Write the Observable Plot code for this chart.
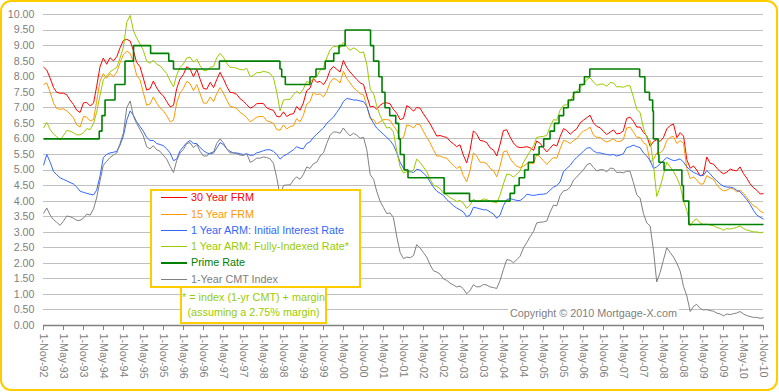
<!DOCTYPE html>
<html><head><meta charset="utf-8">
<script src="https://cdn.jsdelivr.net/npm/d3@7"></script>
<script src="https://cdn.jsdelivr.net/npm/@observablehq/plot@0.6"></script>
<style>
body{margin:0;background:#fff;}
#wrap{position:relative;width:779px;height:392px;font-family:"Liberation Sans",Arial,sans-serif;}
#chart{position:absolute;left:0;top:0;}
#frame{position:absolute;left:0;top:0;width:778px;height:391px;box-sizing:border-box;border:2px solid #FFCC00;border-radius:11px;pointer-events:none;}
#legend{position:absolute;left:150px;top:189px;width:211px;height:99px;box-sizing:border-box;border:2px solid #FFCC00;background:#fff;}
.row{position:absolute;left:0;height:16px;width:205px;}
.row .ln{position:absolute;left:9px;width:26px;top:8px;}
.row .tx{position:absolute;left:39px;top:0;font-size:10.8px;line-height:16px;white-space:nowrap;}
#note{position:absolute;left:180px;top:286px;width:147px;height:38px;box-sizing:border-box;border:2px solid #FFCC00;background:#fff;color:#99CC00;font-size:10.8px;line-height:15.4px;text-align:center;padding-top:2px;white-space:nowrap;}
#copy{position:absolute;left:508px;top:306px;background:#fff;color:#808080;font-size:10.8px;line-height:14px;padding:0 2px;white-space:nowrap;}
</style>
</head><body>
<div id="wrap"></div>
<script>
// ---- data: monthly values, first month = Nov 1992, last = Nov 2010 ----
const seriesNames = ["30 Year FRM","15 Year FRM","1 Year ARM: Initial Interest Rate","1 Year ARM: Fully-Indexed Rate*","Prime Rate","1-Year CMT Index"];
const seriesColors = ["#FF0000","#FF9900","#3366FF","#99CC00","#008000","#808080"];

const frm30 = [
8.31,8.21,
7.95,7.65,7.50,7.47,7.47,7.42,7.25,7.11,6.92,6.85,7.16,7.17,
7.06,7.15,7.68,8.32,8.60,8.40,8.61,8.51,8.64,8.93,9.17,9.20,
9.15,8.83,8.46,8.32,7.96,7.57,7.61,7.86,7.64,7.48,7.38,7.20,
7.03,7.08,7.62,7.93,8.07,8.32,8.25,8.00,8.23,7.92,7.62,7.60,
7.82,7.65,7.90,8.14,7.94,7.69,7.50,7.48,7.43,7.29,7.21,7.10,
6.99,7.04,7.13,7.14,7.14,7.00,6.95,6.92,6.72,6.71,6.87,6.72,
6.79,6.81,7.04,6.92,7.15,7.55,7.63,7.94,7.82,7.85,7.74,7.91,
8.21,8.33,8.24,8.15,8.52,8.29,8.15,8.03,7.91,7.80,7.75,7.38,
7.03,7.05,6.95,7.08,7.15,7.16,7.13,6.95,6.82,6.62,6.66,7.07,
7.00,6.89,7.01,6.99,6.81,6.65,6.49,6.29,6.09,6.11,6.07,6.05,
5.92,5.84,5.75,5.81,5.48,5.23,5.63,6.26,6.15,5.95,5.93,5.88,
5.71,5.64,5.45,5.83,6.27,6.29,6.06,5.87,5.75,5.72,5.73,5.75,
5.71,5.63,5.93,5.86,5.72,5.58,5.70,5.82,5.77,6.07,6.33,6.27,
6.15,6.25,6.32,6.51,6.60,6.68,6.76,6.52,6.40,6.36,6.24,6.14,
6.22,6.29,6.16,6.18,6.26,6.66,6.70,6.57,6.38,6.38,6.21,6.10,
5.76,5.92,5.97,5.92,6.04,6.32,6.43,6.48,6.04,6.20,6.09,5.33,
5.06,5.13,5.00,4.81,4.86,5.42,5.22,5.19,5.06,4.95,4.88,4.93,
5.03,4.99,4.97,5.10,4.89,4.74,4.56,4.43,4.35,4.23,4.24];

const frm15 = [
7.75,7.80,
7.50,7.15,6.98,6.95,6.97,6.90,6.80,6.68,6.45,6.38,6.72,6.70,
6.58,6.62,7.20,7.85,8.10,7.95,8.10,8.00,8.15,8.45,8.72,8.82,
8.75,8.45,8.05,7.90,7.50,7.08,7.12,7.35,7.15,7.00,6.90,6.75,
6.55,6.60,7.15,7.48,7.62,7.85,7.78,7.55,7.75,7.45,7.15,7.15,
7.35,7.20,7.45,7.65,7.48,7.25,7.05,7.02,6.98,6.85,6.78,6.68,
6.55,6.62,6.70,6.72,6.72,6.58,6.55,6.50,6.30,6.28,6.45,6.32,
6.40,6.42,6.65,6.55,6.75,7.12,7.20,7.50,7.42,7.45,7.35,7.52,
7.82,7.95,7.90,7.80,8.18,7.95,7.80,7.65,7.55,7.45,7.42,7.05,
6.65,6.62,6.48,6.55,6.62,6.62,6.60,6.42,6.28,6.00,6.05,6.45,
6.42,6.35,6.48,6.45,6.25,6.05,5.88,5.65,5.45,5.45,5.40,5.38,
5.25,5.15,5.05,5.12,4.82,4.62,4.98,5.55,5.45,5.25,5.25,5.20,
5.05,4.98,4.78,5.12,5.58,5.62,5.38,5.22,5.12,5.08,5.12,5.20,
5.22,5.20,5.50,5.42,5.30,5.18,5.30,5.40,5.38,5.68,5.95,5.92,
5.85,5.95,6.00,6.15,6.25,6.30,6.38,6.12,6.05,6.05,5.95,5.90,
5.95,6.00,5.92,5.92,5.98,6.35,6.38,6.22,6.05,6.05,5.88,5.80,
5.25,5.35,5.55,5.55,5.65,5.95,6.05,6.08,5.85,5.95,5.85,5.05,
4.72,4.78,4.68,4.55,4.55,4.82,4.75,4.70,4.52,4.40,4.33,4.35,
4.42,4.38,4.30,4.35,4.25,4.12,3.98,3.85,3.80,3.68,3.62];

const armInitial = [
5.15,5.50,
5.25,4.95,4.85,4.75,4.70,4.65,4.60,4.55,4.45,4.32,4.28,4.25,
4.22,4.20,4.35,4.80,5.40,5.50,5.55,5.57,5.60,5.80,6.10,6.60,
6.90,6.75,6.55,6.40,6.25,6.05,5.95,5.95,5.85,5.82,5.78,5.68,
5.55,5.30,5.35,5.62,5.75,5.88,5.95,5.85,5.85,5.72,5.62,5.55,
5.52,5.55,5.70,5.88,5.82,5.68,5.60,5.55,5.55,5.52,5.50,5.52,
5.47,5.48,5.55,5.58,5.62,5.65,5.65,5.60,5.50,5.35,5.45,5.50,
5.58,5.65,5.75,5.70,5.68,5.85,5.90,6.05,6.15,6.25,6.35,6.50,
6.60,6.70,6.85,7.00,7.20,7.30,7.28,7.25,7.25,7.22,7.20,7.05,
6.70,6.50,6.35,6.25,6.15,6.05,5.95,5.80,5.55,5.25,5.05,5.00,
4.95,4.92,5.02,5.00,4.90,4.80,4.62,4.45,4.32,4.25,4.18,4.05,
3.95,3.85,3.78,3.72,3.65,3.50,3.55,3.80,3.78,3.75,3.72,3.72,
3.65,3.58,3.45,3.55,3.85,4.05,4.08,4.05,4.02,4.02,4.10,4.22,
4.20,4.18,4.20,4.22,4.22,4.25,4.35,4.45,4.50,4.62,4.95,5.05,
5.15,5.30,5.40,5.50,5.60,5.70,5.72,5.62,5.55,5.55,5.52,5.50,
5.48,5.50,5.45,5.48,5.52,5.72,5.75,5.80,5.75,5.72,5.55,5.45,
5.30,5.05,5.10,5.20,5.30,5.40,5.35,5.30,5.32,5.36,5.25,5.10,
5.00,4.92,4.88,4.82,4.82,4.98,4.88,4.75,4.65,4.55,4.48,4.45,
4.45,4.42,4.35,4.30,4.18,4.05,3.90,3.70,3.55,3.48,3.42];

const armFullyIndexed = [
6.35,6.53,
6.30,6.15,6.07,5.97,6.10,6.27,6.25,6.20,6.13,6.13,6.20,6.33,
6.30,6.50,6.85,7.40,7.90,8.03,8.15,8.23,8.30,8.60,8.95,9.75,
9.97,9.47,9.25,9.05,8.85,8.50,8.43,8.53,8.40,8.35,8.22,8.10,
7.87,7.67,8.05,8.30,8.41,8.60,8.63,8.47,8.57,8.35,8.20,8.20,
8.30,8.33,8.60,8.75,8.63,8.43,8.30,8.30,8.27,8.23,8.22,8.27,
8.00,8.05,8.13,8.13,8.17,8.15,8.11,7.97,7.50,6.90,7.25,7.27,
7.27,7.43,7.53,7.45,7.60,7.85,7.80,7.95,8.00,8.20,8.30,8.60,
8.87,8.97,8.97,8.93,9.10,8.95,8.85,8.93,8.87,8.77,8.80,8.40,
7.60,7.45,7.07,6.75,6.55,6.35,6.37,6.22,5.60,5.10,4.90,4.95,
4.93,5.00,5.35,5.25,5.10,4.95,4.71,4.51,4.47,4.40,4.25,4.20,
4.11,4.05,3.99,4.02,3.93,3.77,3.87,4.06,3.99,4.00,4.07,4.05,
3.99,3.97,3.94,4.20,4.55,4.87,4.85,4.77,4.87,4.98,5.25,5.42,
5.61,5.78,6.05,6.07,6.08,6.11,6.39,6.62,6.60,6.93,7.08,7.10,
7.20,7.43,7.52,7.65,7.75,7.91,7.97,7.83,7.72,7.76,7.76,7.69,
7.81,7.80,7.67,7.68,7.66,7.71,7.71,7.35,6.95,6.85,6.35,6.05,
5.95,5.15,4.15,4.45,4.85,5.25,5.10,4.95,4.75,4.50,4.00,3.70,
3.20,3.37,3.43,3.30,3.25,3.26,3.23,3.21,3.15,3.12,3.06,3.12,
3.10,3.13,3.15,3.20,3.12,3.07,3.04,3.01,3.01,2.98,3.00];

const cmt1y = [
3.60,3.78,
3.55,3.40,3.32,3.22,3.35,3.52,3.50,3.45,3.38,3.38,3.45,3.58,
3.55,3.75,4.10,4.65,5.15,5.28,5.40,5.48,5.55,5.85,6.20,7.00,
7.22,6.72,6.50,6.30,6.10,5.75,5.68,5.78,5.65,5.60,5.47,5.35,
5.12,4.92,5.30,5.55,5.66,5.85,5.88,5.72,5.82,5.60,5.45,5.45,
5.55,5.58,5.85,6.00,5.88,5.68,5.55,5.55,5.52,5.48,5.47,5.52,
5.25,5.30,5.38,5.38,5.42,5.40,5.36,5.22,4.75,4.15,4.50,4.52,
4.52,4.68,4.78,4.70,4.85,5.10,5.05,5.20,5.25,5.45,5.55,5.85,
6.12,6.22,6.22,6.18,6.35,6.20,6.10,6.18,6.12,6.02,6.05,5.65,
4.85,4.70,4.32,4.00,3.80,3.60,3.62,3.47,2.85,2.35,2.15,2.20,
2.18,2.25,2.60,2.50,2.35,2.20,1.96,1.76,1.72,1.65,1.50,1.45,
1.36,1.30,1.24,1.27,1.18,1.02,1.12,1.31,1.24,1.25,1.32,1.30,
1.24,1.22,1.19,1.45,1.80,2.12,2.10,2.02,2.12,2.23,2.50,2.67,
2.86,3.03,3.30,3.32,3.33,3.36,3.64,3.87,3.85,4.18,4.33,4.35,
4.45,4.68,4.77,4.90,5.00,5.16,5.22,5.08,4.97,5.01,5.01,4.94,
5.06,5.05,4.92,4.93,4.91,4.96,4.96,4.60,4.20,4.10,3.60,3.30,
3.20,2.40,1.40,1.70,2.10,2.50,2.35,2.20,2.00,1.75,1.25,0.95,
0.45,0.62,0.68,0.55,0.50,0.51,0.48,0.46,0.40,0.37,0.31,0.37,
0.35,0.38,0.40,0.45,0.37,0.32,0.29,0.26,0.26,0.23,0.25];

// Prime rate: change dates and new levels (step function)
const primeDates = ["1992-11-01","1994-03-25","1994-04-19","1994-05-17","1994-08-16","1994-11-15","1995-02-01","1995-07-07","1995-12-20","1996-02-01","1997-03-26","1998-09-30","1998-10-16","1998-11-18","1999-07-01","1999-08-25","1999-11-17","2000-02-03","2000-03-22","2000-05-17","2001-01-04","2001-02-01","2001-03-21","2001-04-19","2001-05-16","2001-06-28","2001-08-22","2001-09-18","2001-10-03","2001-11-07","2001-12-12","2002-11-07","2003-06-27","2004-07-01","2004-08-11","2004-09-22","2004-11-11","2004-12-15","2005-02-03","2005-03-23","2005-05-04","2005-07-01","2005-08-10","2005-09-21","2005-11-02","2005-12-14","2006-02-01","2006-03-29","2006-05-11","2006-06-29","2007-09-27","2007-11-14","2007-12-26","2008-01-24","2008-01-31","2008-03-14","2008-03-21","2008-05-07","2008-10-17","2008-10-31","2008-12-19","2010-11-01"];
const primeValues = [6.00,6.25,6.75,7.25,7.75,8.50,9.00,8.75,8.50,8.25,8.50,8.25,8.00,7.75,8.00,8.25,8.50,8.75,9.00,9.50,9.00,8.50,8.00,7.50,7.00,6.75,6.50,6.00,5.50,5.00,4.75,4.25,4.00,4.25,4.50,4.75,5.00,5.25,5.50,5.75,6.00,6.25,6.50,6.75,7.00,7.25,7.50,7.75,8.00,8.25,8.00,7.50,7.25,6.90,6.00,5.50,5.25,5.00,4.50,4.00,3.25,3.25];

const yTickValues = [0,0.5,1,1.5,2,2.5,3,3.5,4,4.5,5,5.5,6,6.5,7,7.5,8,8.5,9,9.5,10];
const xTickCount = 37; // 1-Nov-92 ... 1-Nov-10, every 6 months

// ---- build ----
const monthDates = frm30.map((_, i) => new Date(Date.UTC(1992, 10 + i, 1)));
const monthlySeries = [frm30, frm15, armInitial, armFullyIndexed, null, cmt1y];
const rows = [];
monthlySeries.forEach((arr, s) => {
  if (!arr) {
    primeDates.forEach((d, i) => rows.push({date: new Date(d + "T00:00:00Z"), value: primeValues[i], s}));
  } else {
    arr.forEach((v, i) => rows.push({date: monthDates[i], value: v, s}));
  }
});
const xTicks = d3.range(xTickCount).map(i => new Date(Date.UTC(1992, 10 + 6 * i, 1)));
const fmt = d3.utcFormat("%-d-%b-%y");

const lineMarks = seriesNames.map((name, s) => Plot.line(rows.filter(r => r.s === s), {
  x: "date", y: "value", stroke: seriesColors[s],
  strokeWidth: s === 4 ? 1.6 : 1,
  curve: s === 4 ? "step-after" : "linear",
  strokeLinejoin: "miter", strokeLinecap: "butt"
}));

const chart = Plot.plot({
  width: 779, height: 392,
  marginLeft: 43, marginRight: 16, marginTop: 14, marginBottom: 67,
  style: {fontFamily: '"Liberation Sans", Arial, sans-serif', fontSize: "10.7px", background: "transparent", color: "#808080", overflow: "visible"},
  x: {type: "utc", domain: [xTicks[0], xTicks[xTicks.length - 1]], label: null},
  y: {domain: [0, 10], label: null},
  marks: [
    Plot.gridY(yTickValues.filter(v => v > 0), {stroke: "#C0C0C0", strokeOpacity: 1, shapeRendering: "crispEdges"}),
    Plot.axisY(yTickValues, {tickFormat: d3.format(".2f"), tickSize: 0, tickPadding: 9, fill: "#808080", label: null}),
    Plot.axisX(xTicks, {tickFormat: fmt, tickRotate: 90, tickSize: 5, tickPadding: 3, stroke: "#808080", fill: "#808080", shapeRendering: "crispEdges", label: null}),
    Plot.ruleY([0], {stroke: "#808080", strokeWidth: 1.3}),
    ...lineMarks
  ]
});
chart.id = "chart";
const wrap = document.getElementById("wrap");
wrap.appendChild(chart);

// legend
const legend = document.createElement("div");
legend.id = "legend";
seriesNames.forEach((name, s) => {
  const row = document.createElement("div");
  row.className = "row";
  row.style.top = (197.3 + 16.28 * s - 191 - 8) + "px";
  const ln = document.createElement("div");
  ln.className = "ln";
  ln.style.borderTop = (s === 4 ? 2 : 1) + "px solid " + seriesColors[s];
  const tx = document.createElement("div");
  tx.className = "tx";
  tx.style.color = seriesColors[s];
  tx.textContent = name;
  row.appendChild(ln); row.appendChild(tx);
  legend.appendChild(row);
});
wrap.appendChild(legend);

const note = document.createElement("div");
note.id = "note";
note.innerHTML = "* = index (1-yr CMT) + margin<br>(assuming a 2.75% margin)";
wrap.appendChild(note);

const copy = document.createElement("div");
copy.id = "copy";
copy.textContent = "Copyright \u00A9 2010 Mortgage-X.com";
wrap.appendChild(copy);

const frame = document.createElement("div");
frame.id = "frame";
wrap.appendChild(frame);
</script>
</body></html>
